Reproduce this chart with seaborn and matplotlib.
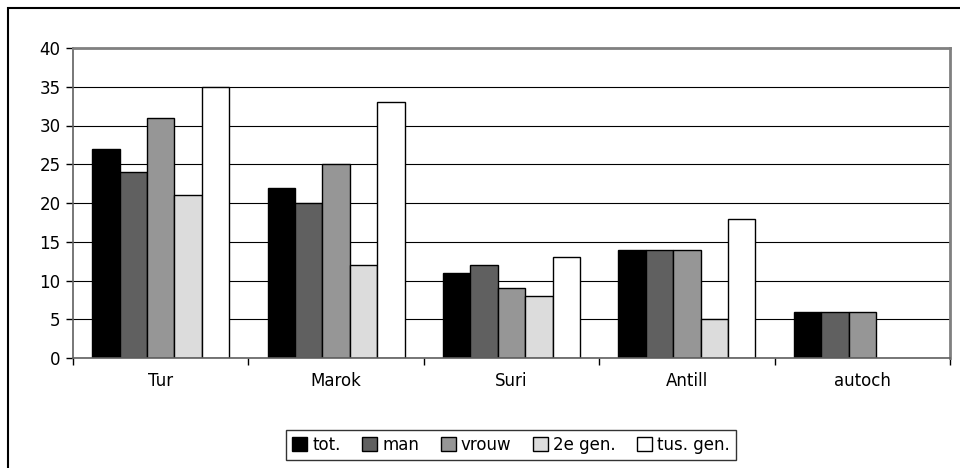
import numpy as np
import pandas as pd
import matplotlib
matplotlib.use("Agg")
import matplotlib.pyplot as plt
import seaborn as sns
from matplotlib.patches import Rectangle

# data
categories = ["Tur", "Marok", "Suri", "Antill", "autoch"]
series = ["tot.", "man", "vrouw", "2e gen.", "tus. gen."]
tot = [27, 22, 11, 14, 6]
man = [24, 20, 12, 14, 6]
vrouw = [31, 25, 9, 14, 6]
gen2 = [21, 12, 8, 5, np.nan]
tus_gen = [35, 33, 13, 18, np.nan]
colors = ["#000000", "#606060", "#969696", "#dcdcdc", "#ffffff"]

rows = []
for name, vals in zip(series, [tot, man, vrouw, gen2, tus_gen]):
    for cat, v in zip(categories, vals):
        rows.append({"cat": cat, "series": name, "val": v})
df = pd.DataFrame(rows)

sns.set_style("white")
plt.rcParams["font.family"] = ["DejaVu Sans"]
plt.rcParams["text.color"] = "black"
plt.rcParams["xtick.color"] = "black"
plt.rcParams["ytick.color"] = "black"

fig = plt.figure(figsize=(9.6, 4.68), dpi=100)
ax = fig.add_axes([73 / 960, 110 / 468, 877 / 960, 310 / 468])

sns.barplot(data=df, x="cat", y="val", hue="series", order=categories,
            hue_order=series, palette=colors, edgecolor="black",
            linewidth=1, width=0.78, ax=ax, saturation=1, legend=True)

ax.set_ylim(0, 40)
ax.set_xlim(-0.5, 4.5)
ax.set_yticks(range(0, 41, 5))
ax.set_xlabel("")
ax.set_ylabel("")
ax.yaxis.grid(True, color="black", linewidth=0.8)
ax.set_axisbelow(True)

for side in ["top", "right"]:
    ax.spines[side].set_color("#808080")
    ax.spines[side].set_linewidth(2)
for side in ["left", "bottom"]:
    ax.spines[side].set_color("#606060")
    ax.spines[side].set_linewidth(1.2)

ax.tick_params(axis="y", which="major", direction="out", length=5, width=1,
               color="black", labelsize=12, pad=4, left=True)
ax.tick_params(axis="x", which="major", length=0, labelsize=12, pad=10)
ax.set_xticks(np.arange(-0.5, 5, 1), minor=True)
ax.tick_params(axis="x", which="minor", direction="out", length=5, width=1,
               color="black", bottom=True)

ax.legend_.remove()
handles, labels = ax.get_legend_handles_labels()
leg = fig.legend(handles[:5], labels[:5], loc="center", ncol=5,
                 bbox_to_anchor=(511 / 960, 23 / 468), frameon=True,
                 fancybox=False, edgecolor="black", fontsize=12,
                 handlelength=0.9, handleheight=0.9, handletextpad=0.3,
                 columnspacing=1.3, borderpad=0.35)
leg.get_frame().set_linewidth(1)

# outer chart border
fig.patches.append(Rectangle((8 / 960, -0.1), 1.2, (460 / 468) + 0.1,
                             transform=fig.transFigure, fill=False,
                             edgecolor="black", linewidth=1.5))

fig.savefig("out.png", dpi=100)
